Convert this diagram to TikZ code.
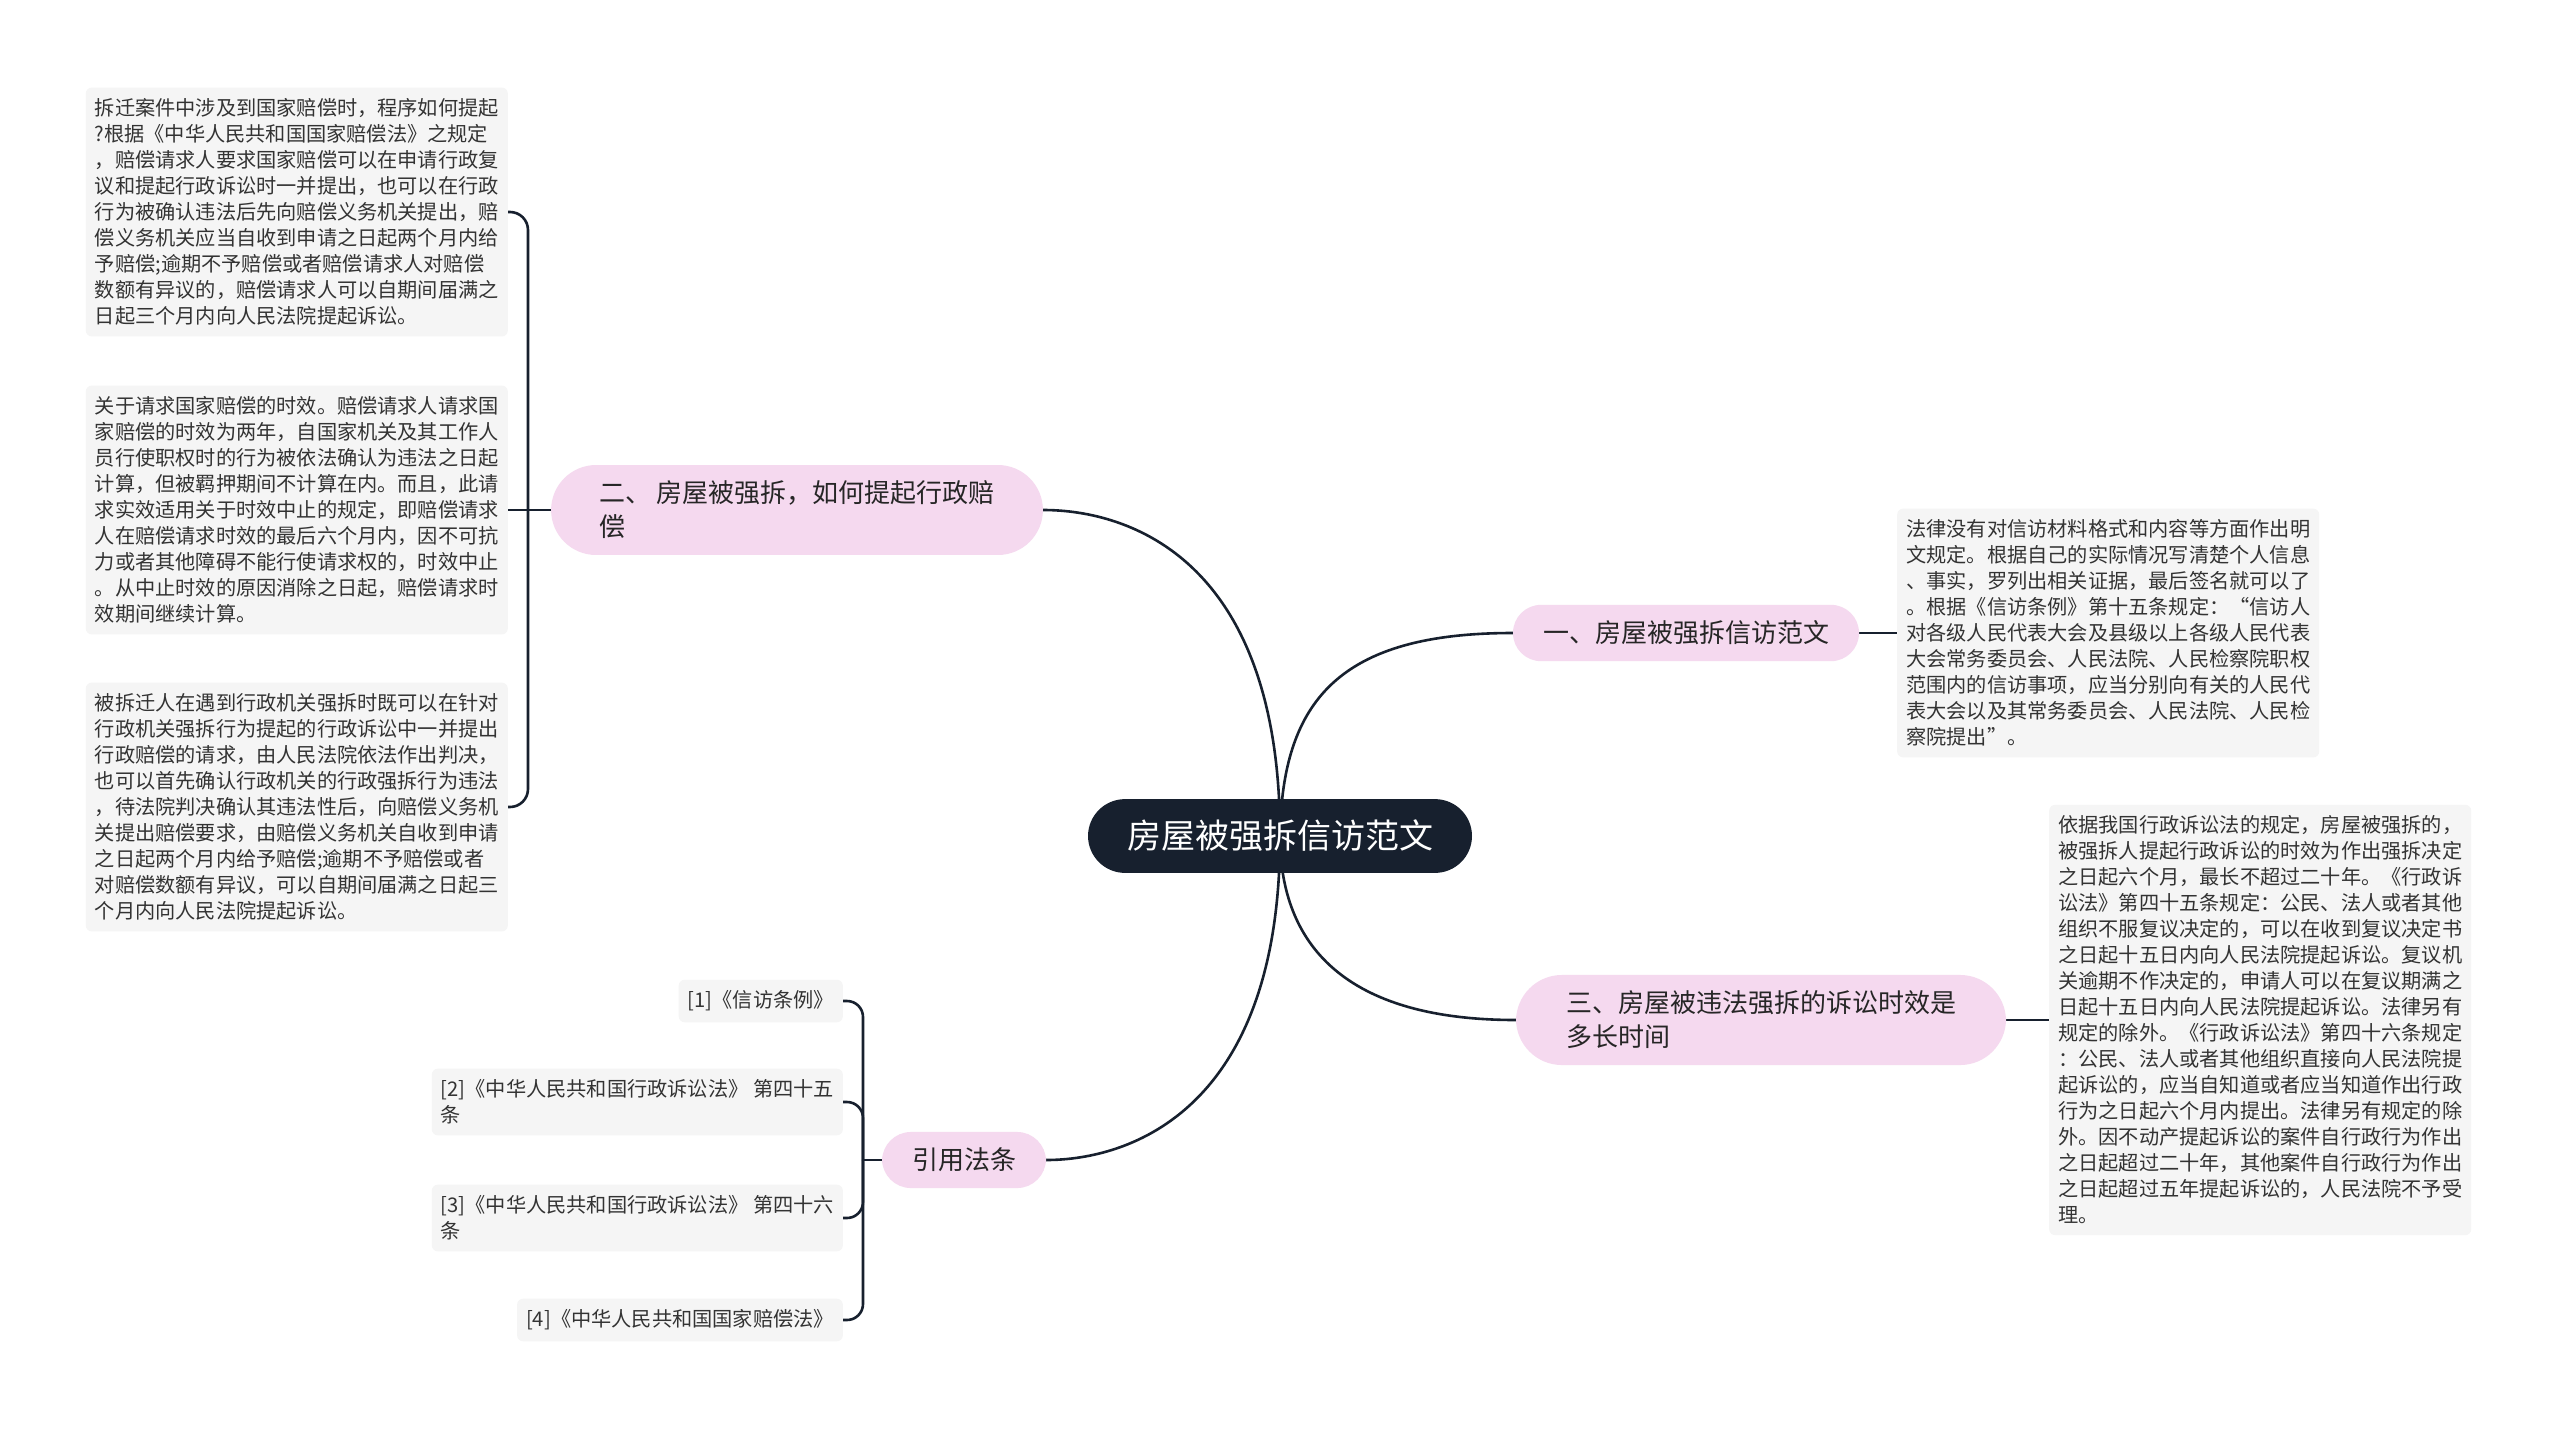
\documentclass[tikz,border=0pt]{standalone}
\usepackage{fontspec}
\setmainfont{Noto Sans CJK SC}
\usetikzlibrary{backgrounds}
\definecolor{rootcol}{HTML}{17202E}
\definecolor{linecol}{HTML}{17202E}
\definecolor{pinkcol}{HTML}{F5D9EF}
\definecolor{leafcol}{HTML}{F5F5F5}
\definecolor{txtcol}{HTML}{333333}
\begin{document}
\begin{tikzpicture}[x=1pt,y=-1pt,
    root/.style={fill=rootcol, text=white, rounded corners=37pt, inner xsep=39pt, inner ysep=21pt,
        font=\fontsize{34}{40}\selectfont},
    topic/.style={fill=pinkcol, text=black!85, inner xsep=30pt, inner ysep=16pt, align=left,
        font=\fontsize{26}{34}\selectfont},
    leaf/.style={fill=leafcol, text=txtcol, rounded corners=6pt, inner xsep=9pt, inner ysep=11pt,
        align=left, font=\fontsize{20.2}{26}\selectfont},
    link/.style={draw=linecol, line width=2.6pt}]
    \useasboundingbox (0,0) rectangle (2560,1430);

    % centre and main topics
    \node[root] (root) at (1280,836) {房屋被强拆信访范文};
    \node[topic, rounded corners=28pt] (b1) at (1686,633) {一、房屋被强拆信访范文};
    \node[topic, rounded corners=45pt, inner xsep=48pt] (b2) at (797,510) {二、 房屋被强拆，如何提起行政赔\\偿};
    \node[topic, rounded corners=46pt, inner xsep=50pt] (b3) at (1761,1020) {三、房屋被违法强拆的诉讼时效是\\多长时间};
    \node[topic, rounded corners=29pt] (b4) at (964,1160) {引用法条};

    % left details
    \node[leaf, anchor=east] (L1) at (508,212) {拆迁案件中涉及到国家赔偿时，程序如何提起\\?根据《中华人民共和国国家赔偿法》之规定\\，赔偿请求人要求国家赔偿可以在申请行政复\\议和提起行政诉讼时一并提出，也可以在行政\\行为被确认违法后先向赔偿义务机关提出，赔\\偿义务机关应当自收到申请之日起两个月内给\\予赔偿;逾期不予赔偿或者赔偿请求人对赔偿\\数额有异议的，赔偿请求人可以自期间届满之\\日起三个月内向人民法院提起诉讼。};
    \node[leaf, anchor=east] (L2) at (508,510) {关于请求国家赔偿的时效。赔偿请求人请求国\\家赔偿的时效为两年，自国家机关及其工作人\\员行使职权时的行为被依法确认为违法之日起\\计算，但被羁押期间不计算在内。而且，此请\\求实效适用关于时效中止的规定，即赔偿请求\\人在赔偿请求时效的最后六个月内，因不可抗\\力或者其他障碍不能行使请求权的，时效中止\\。从中止时效的原因消除之日起，赔偿请求时\\效期间继续计算。};
    \node[leaf, anchor=east] (L3) at (508,807) {被拆迁人在遇到行政机关强拆时既可以在针对\\行政机关强拆行为提起的行政诉讼中一并提出\\行政赔偿的请求，由人民法院依法作出判决，\\也可以首先确认行政机关的行政强拆行为违法\\，待法院判决确认其违法性后，向赔偿义务机\\关提出赔偿要求，由赔偿义务机关自收到申请\\之日起两个月内给予赔偿;逾期不予赔偿或者\\对赔偿数额有异议，可以自期间届满之日起三\\个月内向人民法院提起诉讼。};

    % right details
    \node[leaf, anchor=west] (R1) at (1897,633) {法律没有对信访材料格式和内容等方面作出明\\文规定。根据自己的实际情况写清楚个人信息\\、事实，罗列出相关证据，最后签名就可以了\\。根据《信访条例》第十五条规定：“信访人\\对各级人民代表大会及县级以上各级人民代表\\大会常务委员会、人民法院、人民检察院职权\\范围内的信访事项，应当分别向有关的人民代\\表大会以及其常务委员会、人民法院、人民检\\察院提出”。};
    \node[leaf, anchor=west] (R2) at (2049,1020) {依据我国行政诉讼法的规定，房屋被强拆的，\\被强拆人提起行政诉讼的时效为作出强拆决定\\之日起六个月，最长不超过二十年。《行政诉\\讼法》第四十五条规定：公民、法人或者其他\\组织不服复议决定的，可以在收到复议决定书\\之日起十五日内向人民法院提起诉讼。复议机\\关逾期不作决定的，申请人可以在复议期满之\\日起十五日内向人民法院提起诉讼。法律另有\\规定的除外。《行政诉讼法》第四十六条规定\\：公民、法人或者其他组织直接向人民法院提\\起诉讼的，应当自知道或者应当知道作出行政\\行为之日起六个月内提出。法律另有规定的除\\外。因不动产提起诉讼的案件自行政行为作出\\之日起超过二十年，其他案件自行政行为作出\\之日起超过五年提起诉讼的，人民法院不予受\\理。};

    % references
    \node[leaf, anchor=east] (F1) at (843,1001) {[1]《信访条例》};
    \node[leaf, anchor=east] (F2) at (843,1102) {[2]《中华人民共和国行政诉讼法》 第四十五\\条};
    \node[leaf, anchor=east] (F3) at (843,1218) {[3]《中华人民共和国行政诉讼法》 第四十六\\条};
    \node[leaf, anchor=east] (F4) at (843,1320) {[4]《中华人民共和国国家赔偿法》};

    \coordinate (j2) at (528,510);
    \coordinate (j4) at (863,1160);

    \begin{scope}[on background layer]
        \fill[white] (0,0) rectangle (2560,1430);
        \draw[link] (root.center) .. controls (1280,560) and (1130,510) .. (b2.east);
        \draw[link] (root.center) .. controls (1282,700) and (1340,633) .. (b1.west);
        \draw[link] (root.center) .. controls (1280,945) and (1345,1020) .. (b3.west);
        \draw[link] (root.center) .. controls (1280,1110) and (1130,1160) .. (b4.east);
        \draw[link] (b1.east) -- (R1.west);
        \draw[link] (b3.east) -- (R2.west);
        \draw[link] (b2.west) -- (j2) -- (L2.east);
        \draw[link, rounded corners=18pt] (j2) |- (L1.east);
        \draw[link, rounded corners=18pt] (j2) |- (L3.east);
        \draw[link] (b4.west) -- (j4);
        \draw[link, rounded corners=16pt] (j4) |- (F1.east);
        \draw[link, rounded corners=16pt] (j4) |- (F2.east);
        \draw[link, rounded corners=16pt] (j4) |- (F3.east);
        \draw[link, rounded corners=16pt] (j4) |- (F4.east);
    \end{scope}
\end{tikzpicture}
\end{document}
